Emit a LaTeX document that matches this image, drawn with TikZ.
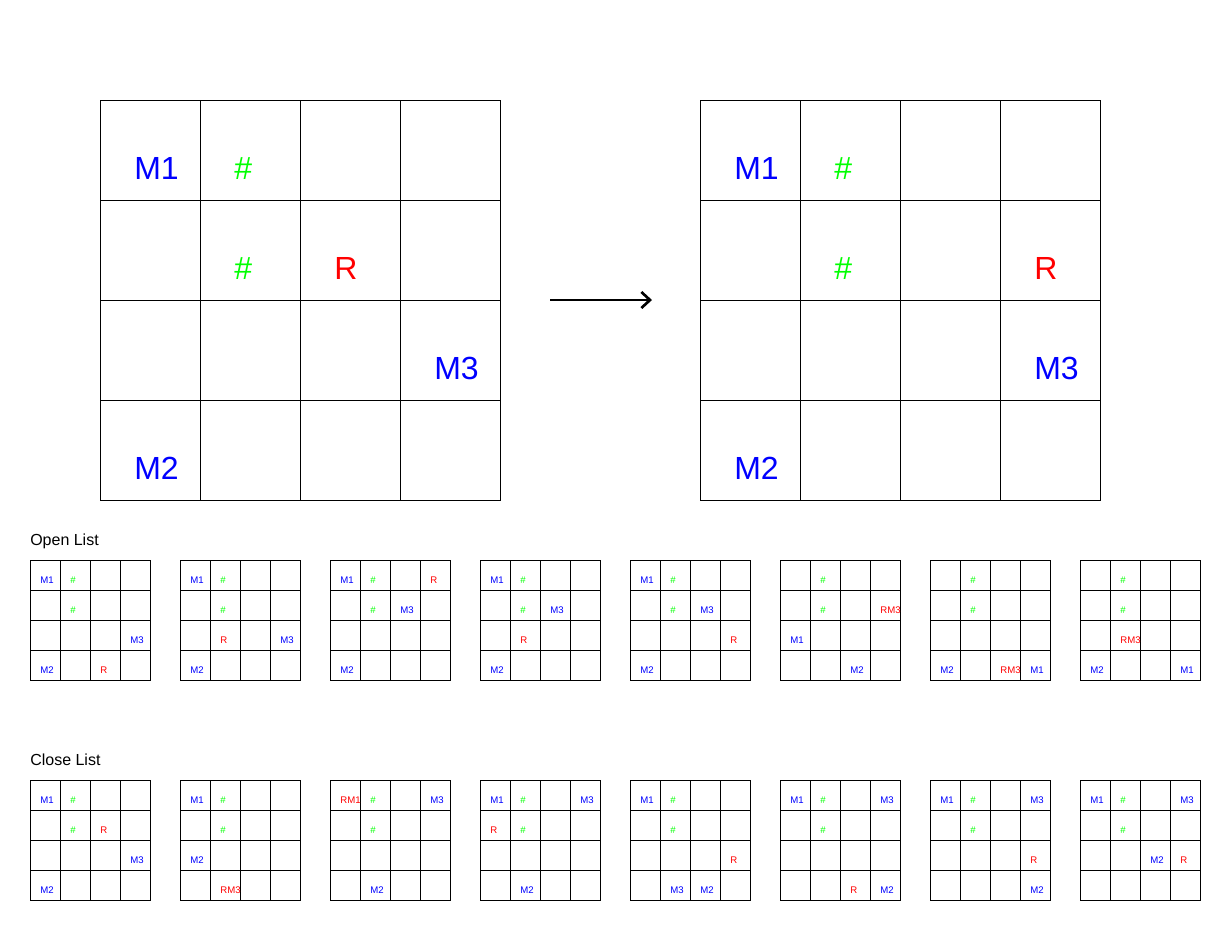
\documentclass[tikz,border=0pt]{standalone}
\usepackage{fontspec}
\setmainfont{Liberation Sans}
\usetikzlibrary{arrows.meta}
\definecolor{mblue}{RGB}{0,0,255}
\definecolor{mgreen}{RGB}{0,255,0}
\definecolor{mred}{RGB}{255,0,0}

% #1 name, #2 left, #3 top, #4 cell size, #5 text style, #6 entries col/row/text/colour
\newcommand{\board}[6]{%
  \foreach \i in {0,...,3}
    \foreach \j in {0,...,3}
      \draw[cell] (#2+\i*#4,#3+\j*#4) rectangle ++(#4,#4);
  \foreach \c/\r/\t/\col in {#6}
    \node[#5,text=\col] (#1_\c_\r) at (#2+\c*#4+0.34*#4,#3+\r*#4+0.79*#4) {\t};
}

\begin{document}
\begin{tikzpicture}[x=0.75pt,y=-0.75pt,
    cell/.style={draw=black,line width=0.75pt},
    bigmark/.style={anchor=base west,inner sep=0pt,font=\fontsize{24}{24}\selectfont},
    smallmark/.style={anchor=base west,inner sep=0pt,font=\fontsize{7.2}{7.2}\selectfont},
    listlabel/.style={anchor=base west,inner sep=0pt,font=\fontsize{12}{12}\selectfont},
    link/.style={-{Straight Barb[length=6.5pt,width=12pt]},line width=2pt}]
    \useasboundingbox (0,0) rectangle (1230,940);

    % Before and after
    \board{before}{100}{100}{100}{bigmark}{0/0/M1/mblue,1/0/\#/mgreen,1/1/\#/mgreen,2/1/R/mred,3/2/M3/mblue,0/3/M2/mblue}
    \board{after}{700}{100}{100}{bigmark}{0/0/M1/mblue,1/0/\#/mgreen,1/1/\#/mgreen,3/1/R/mred,3/2/M3/mblue,0/3/M2/mblue}

    \coordinate (arrow_from) at (550,300);
    \coordinate (arrow_to) at (652,300);
    \draw[link] (arrow_from) -- (arrow_to);

    % Open list
    \node[listlabel] (open_label) at (30,545) {Open List};
    \board{open1}{30}{560}{30}{smallmark}{0/0/M1/mblue,1/0/\#/mgreen,1/1/\#/mgreen,3/2/M3/mblue,0/3/M2/mblue,2/3/R/mred}
    \board{open2}{180}{560}{30}{smallmark}{0/0/M1/mblue,1/0/\#/mgreen,1/1/\#/mgreen,1/2/R/mred,3/2/M3/mblue,0/3/M2/mblue}
    \board{open3}{330}{560}{30}{smallmark}{0/0/M1/mblue,1/0/\#/mgreen,3/0/R/mred,1/1/\#/mgreen,2/1/M3/mblue,0/3/M2/mblue}
    \board{open4}{480}{560}{30}{smallmark}{0/0/M1/mblue,1/0/\#/mgreen,1/1/\#/mgreen,2/1/M3/mblue,1/2/R/mred,0/3/M2/mblue}
    \board{open5}{630}{560}{30}{smallmark}{0/0/M1/mblue,1/0/\#/mgreen,1/1/\#/mgreen,2/1/M3/mblue,3/2/R/mred,0/3/M2/mblue}
    \board{open6}{780}{560}{30}{smallmark}{1/0/\#/mgreen,1/1/\#/mgreen,3/1/RM3/mred,0/2/M1/mblue,2/3/M2/mblue}
    \board{open7}{930}{560}{30}{smallmark}{1/0/\#/mgreen,1/1/\#/mgreen,0/3/M2/mblue,2/3/RM3/mred,3/3/M1/mblue}
    \board{open8}{1080}{560}{30}{smallmark}{1/0/\#/mgreen,1/1/\#/mgreen,1/2/RM3/mred,0/3/M2/mblue,3/3/M1/mblue}

    % Close list
    \node[listlabel] (close_label) at (30,765) {Close List};
    \board{close1}{30}{780}{30}{smallmark}{0/0/M1/mblue,1/0/\#/mgreen,1/1/\#/mgreen,2/1/R/mred,3/2/M3/mblue,0/3/M2/mblue}
    \board{close2}{180}{780}{30}{smallmark}{0/0/M1/mblue,1/0/\#/mgreen,1/1/\#/mgreen,0/2/M2/mblue,1/3/RM3/mred}
    \board{close3}{330}{780}{30}{smallmark}{0/0/RM1/mred,1/0/\#/mgreen,3/0/M3/mblue,1/1/\#/mgreen,1/3/M2/mblue}
    \board{close4}{480}{780}{30}{smallmark}{0/0/M1/mblue,1/0/\#/mgreen,3/0/M3/mblue,0/1/R/mred,1/1/\#/mgreen,1/3/M2/mblue}
    \board{close5}{630}{780}{30}{smallmark}{0/0/M1/mblue,1/0/\#/mgreen,1/1/\#/mgreen,3/2/R/mred,1/3/M3/mblue,2/3/M2/mblue}
    \board{close6}{780}{780}{30}{smallmark}{0/0/M1/mblue,1/0/\#/mgreen,3/0/M3/mblue,1/1/\#/mgreen,2/3/R/mred,3/3/M2/mblue}
    \board{close7}{930}{780}{30}{smallmark}{0/0/M1/mblue,1/0/\#/mgreen,3/0/M3/mblue,1/1/\#/mgreen,3/2/R/mred,3/3/M2/mblue}
    \board{close8}{1080}{780}{30}{smallmark}{0/0/M1/mblue,1/0/\#/mgreen,3/0/M3/mblue,1/1/\#/mgreen,2/2/M2/mblue,3/2/R/mred}
\end{tikzpicture}
\end{document}
